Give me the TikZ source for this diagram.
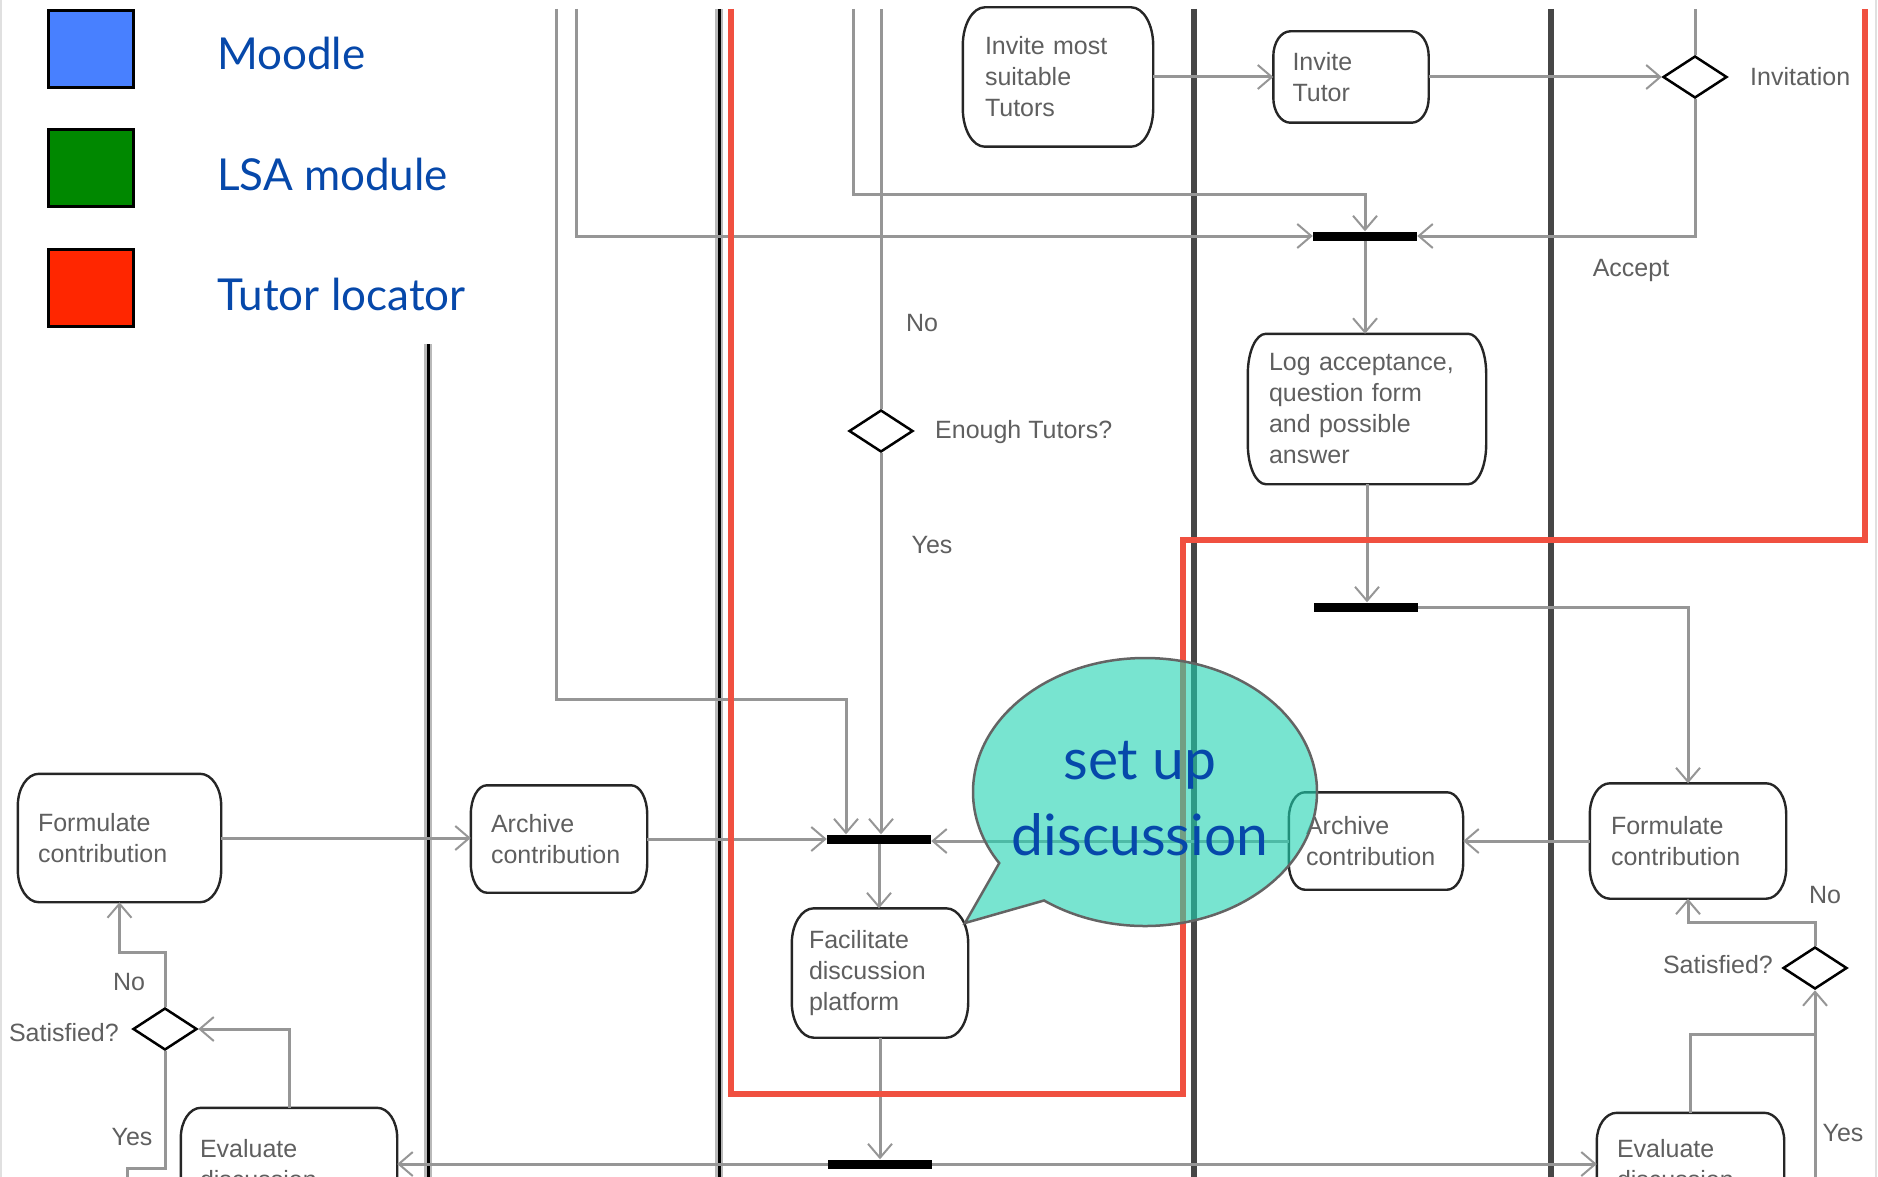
\documentclass[tikz,border=0pt]{standalone}
\usepackage{fontspec}
\setmainfont{Liberation Sans}
\newfontfamily\latofont{Lato}
\usetikzlibrary{arrows.meta,shapes.geometric,shapes.callouts}
\definecolor{lblue}{RGB}{72,128,255}
\definecolor{lgreen}{RGB}{0,136,0}
\definecolor{lred}{RGB}{255,38,0}
\definecolor{legblue}{RGB}{6,72,170}
\definecolor{conncol}{RGB}{150,150,150}
\definecolor{txtgray}{RGB}{95,95,95}
\definecolor{lanegray}{RGB}{70,70,70}
\definecolor{halo}{RGB}{185,185,185}
\definecolor{framered}{RGB}{240,80,64}
\definecolor{calfill}{RGB}{30,210,177}
\definecolor{caldraw}{RGB}{100,100,100}
% activity frame: #1 node name, #2 corner x radius, #3 corner y radius
\newcommand{\actframe}[3]{%
  \draw[actline] ([xshift=#2pt]#1.north west) -- ([xshift=-#2pt]#1.north east)
    arc[start angle=90,end angle=0,x radius=#2pt,y radius=#3pt]
    -- ([yshift=#3pt]#1.south east)
    arc[start angle=0,end angle=-90,x radius=#2pt,y radius=#3pt]
    -- ([xshift=#2pt]#1.south west)
    arc[start angle=-90,end angle=-180,x radius=#2pt,y radius=#3pt]
    -- ([yshift=-#3pt]#1.north west)
    arc[start angle=180,end angle=90,x radius=#2pt,y radius=#3pt] -- cycle;}
\begin{document}
\begin{tikzpicture}[x=1pt,y=-1pt,
  conn/.style={draw=conncol, line width=3pt},
  arr/.style={-{Straight Barb[length=14pt,width=24pt,line width=2pt]}},
  act/.style={draw=none, align=left, font=\fontsize{25}{31}\selectfont, text=txtgray, inner ysep=0pt},
  actline/.style={draw=black!85, line width=2.4pt, line join=round},
  forkbar/.style={fill=black, draw=none, minimum width=104pt, minimum height=9pt, inner sep=0pt},
  dec/.style={diamond, draw=black, line width=2.5pt, fill=white, minimum width=64pt,
    minimum height=42pt, inner sep=0pt},
  lbl/.style={font=\fontsize{25}{31}\selectfont, text=txtgray, inner sep=0pt},
  legsq/.style={draw=black, line width=3pt, minimum width=85pt, minimum height=77pt, inner sep=0pt},
  legtxt/.style={font=\latofont\fontsize{44}{50}\selectfont, text=legblue, inner sep=0pt, anchor=base west},
  lanedark/.style={draw=lanegray, line width=6pt},
  lanehalo/.style={draw=halo, line width=8pt},
  laneblack/.style={draw=black, line width=3pt},
  redframe/.style={draw=framered, line width=5.5pt}
]
\useasboundingbox (0,0) rectangle (1878,1177);
\clip (0,0) rectangle (1878,1177);

% slide edges
\draw[draw=black!12, line width=2pt] (1,0) -- (1,1177);
\draw[draw=black!12, line width=2pt] (1876,0) -- (1876,1177);

% legend
\node[legsq, fill=lblue] (sqM) at (91,49) {};
\node[legsq, fill=lgreen] (sqL) at (91,168) {};
\node[legsq, fill=lred] (sqT) at (91,288) {};
\node[legtxt] (tM) at (217,70) {Moodle};
\node[legtxt] (tL) at (217,190) {LSA module};
\node[legtxt] (tT) at (217,310) {Tutor locator};

% lane lines
\draw[lanehalo] (428,344) -- (428,1177);
\draw[laneblack] (428,344) -- (428,1177);
\draw[lanehalo] (719,9) -- (719,1177);
\draw[laneblack] (719,9) -- (719,1177);
\draw[lanedark] (1194,9) -- (1194,1177);
\draw[lanedark] (1551,9) -- (1551,1177);

% free ends
\coordinate (t556) at (556,9);
\coordinate (t576) at (576,9);
\coordinate (t853) at (853,9);
\coordinate (t879) at (881,9);
\coordinate (tInv) at (1695,9);
\coordinate (tLy) at (127,1180);
\coordinate (tRy) at (1815,1180);

% nodes
\node[act, minimum width=190pt, minimum height=139pt, inner xsep=22pt, text width=146pt] (invmost) at (1058,77) {Invite most\\suitable\\Tutors};
\node[act, minimum width=155pt, minimum height=91pt, inner xsep=19pt, text width=117pt] (invtutor) at (1351,77) {Invite\\Tutor};
\node[dec] (dInv) at (1695,77) {};
\node[forkbar] (bar1) at (1365,236) {};
\node[act, minimum width=238pt, minimum height=150pt, inner xsep=21pt, text width=196pt] (log) at (1367,409) {Log acceptance,\\question form\\and possible\\answer};
\node[forkbar] (bar2) at (1366,607) {};
\node[dec] (dEnough) at (881,431) {};
\node[act, minimum width=196pt, minimum height=115pt, inner xsep=21pt, text width=154pt] (rform) at (1688,841) {Formulate\\contribution};
\node[act, minimum width=174pt, minimum height=97pt, inner xsep=17pt, text width=140pt] (rarch) at (1376,841) {Archive\\contribution};
\node[forkbar] (bar3) at (879,839) {};
\node[act, minimum width=176pt, minimum height=107pt, inner xsep=20pt, text width=136pt] (larch) at (559,839) {Archive\\contribution};
\node[act, minimum width=203pt, minimum height=128pt, inner xsep=20pt, text width=163pt] (lform) at (119.5,838) {Formulate\\contribution};
\node[act, minimum width=176pt, minimum height=129pt, inner xsep=17pt, text width=142pt] (fac) at (880,973) {Facilitate\\discussion\\platform};
\node[forkbar] (bar4) at (880,1164) {};
\node[act, minimum width=216pt, minimum height=112pt, inner xsep=19pt, text width=178pt] (leval) at (289,1164) {Evaluate\\discussion};
\node[act, minimum width=187pt, minimum height=102pt, inner xsep=20pt, text width=147pt] (reval) at (1690.5,1164) {Evaluate\\discussion};
\node[dec] (dLS) at (165,1029) {};
\node[dec] (dRS) at (1815,968) {};

% activity outlines
\actframe{invmost}{22}{38}
\actframe{invtutor}{17}{25}
\actframe{log}{18}{40}
\actframe{rform}{20}{31}
\actframe{rarch}{16}{26}
\actframe{larch}{16}{29}
\actframe{lform}{21}{32}
\actframe{fac}{22}{35}
\actframe{leval}{20}{30}
\actframe{reval}{20}{28}

% connectors
\draw[conn,arr] (t576) |- (bar1.west);
\draw[conn,arr] (t853) -- ++(0,186) -| (bar1.north);
\draw[conn,arr] (dInv.south) |- (bar1.east);
\draw[conn] (dInv.north) -- (tInv);
\draw[conn,arr] (invmost.east) -- (invtutor.west);
\draw[conn,arr] (invtutor.east) -- (dInv.west);
\draw[conn,arr] (bar1.south) -- (bar1.south |- log.north);
\draw[conn,arr] (log.south) -- (log.south |- bar2.north);
\draw[conn,arr] (bar2.east) -| (rform.north);
\draw[conn,arr] (rform.west) -- (rform.west -| rarch.east);
\draw[conn,arr] (rarch.west) -- (rarch.west -| bar3.east);
\draw[conn,arr] (lform.east) -- (lform.east -| larch.west);
\draw[conn,arr] (larch.east) -- (larch.east -| bar3.west);
\draw[conn,arr] (t556) -- (556,699) -| ([xshift=-33pt]bar3.north);
\draw[conn,arr] (dEnough.south) -- (dEnough.south |- bar3.north);
\draw[conn] (dEnough.north) -- (t879);
\draw[conn,arr] (bar3.south) -- (bar3.south |- fac.north);
\draw[conn,arr] (fac.south) -- (fac.south |- bar4.north);
\draw[conn,arr] (bar4.west) -- (bar4.west -| leval.east);
\draw[conn,arr] (bar4.east) -- (bar4.east -| reval.west);
\draw[conn,arr] (leval.north) |- (dLS.east);
\draw[conn,arr] (dLS.north) -- ++(0,-54) -| (lform.south);
\draw[conn] (dLS.south) -- (165,1168) -- (127,1168) -- (tLy);
\draw[conn,arr] (reval.north) |- (1815,1034) -- (dRS.south);
\draw[conn] (tRy) -- (1815,1034);
\draw[conn,arr] (dRS.north) -- ++(0,-23) -| (rform.south);

% labels
\node[lbl] (lNo1) at (922,323) {No};
\node[lbl] (lYes1) at (932,545) {Yes};
\node[lbl, anchor=west] (lEnough) at (935,432) {Enough Tutors?};
\node[lbl, anchor=west] (lInv) at (1750,77) {Invitation};
\node[lbl] (lAcc) at (1631,270) {Accept};
\node[lbl] (lNo2) at (129,982) {No};
\node[lbl, anchor=east] (lSat1) at (119,1033) {Satisfied?};
\node[lbl] (lYes2) at (132,1137) {Yes};
\node[lbl] (lNo3) at (1825,895) {No};
\node[lbl, anchor=east] (lSat2) at (1773,965) {Satisfied?};
\node[lbl] (lYes3) at (1843,1133) {Yes};

% red frame
\draw[redframe] (731,9) -- (731,1094) -- (1183,1094) -- (1183,540) -- (1865,540) -- (1865,9);

% callout
\node[ellipse callout, draw=caldraw, line width=2.5pt, fill=calfill, fill opacity=0.6, draw opacity=1,
  minimum width=344pt, minimum height=268pt, inner sep=0pt, outer sep=0pt,
  callout absolute pointer={(965,923)}, callout pointer arc=22] (bubble) at (1145,792) {};
\node[font=\latofont\fontsize{57}{73}\selectfont, text=legblue, inner sep=0pt, anchor=base] (cs1) at (1140,779) {set up};
\node[font=\latofont\fontsize{57}{73}\selectfont, text=legblue, inner sep=0pt, anchor=base] (cs2) at (1140,855) {discussion};
\end{tikzpicture}
\end{document}
